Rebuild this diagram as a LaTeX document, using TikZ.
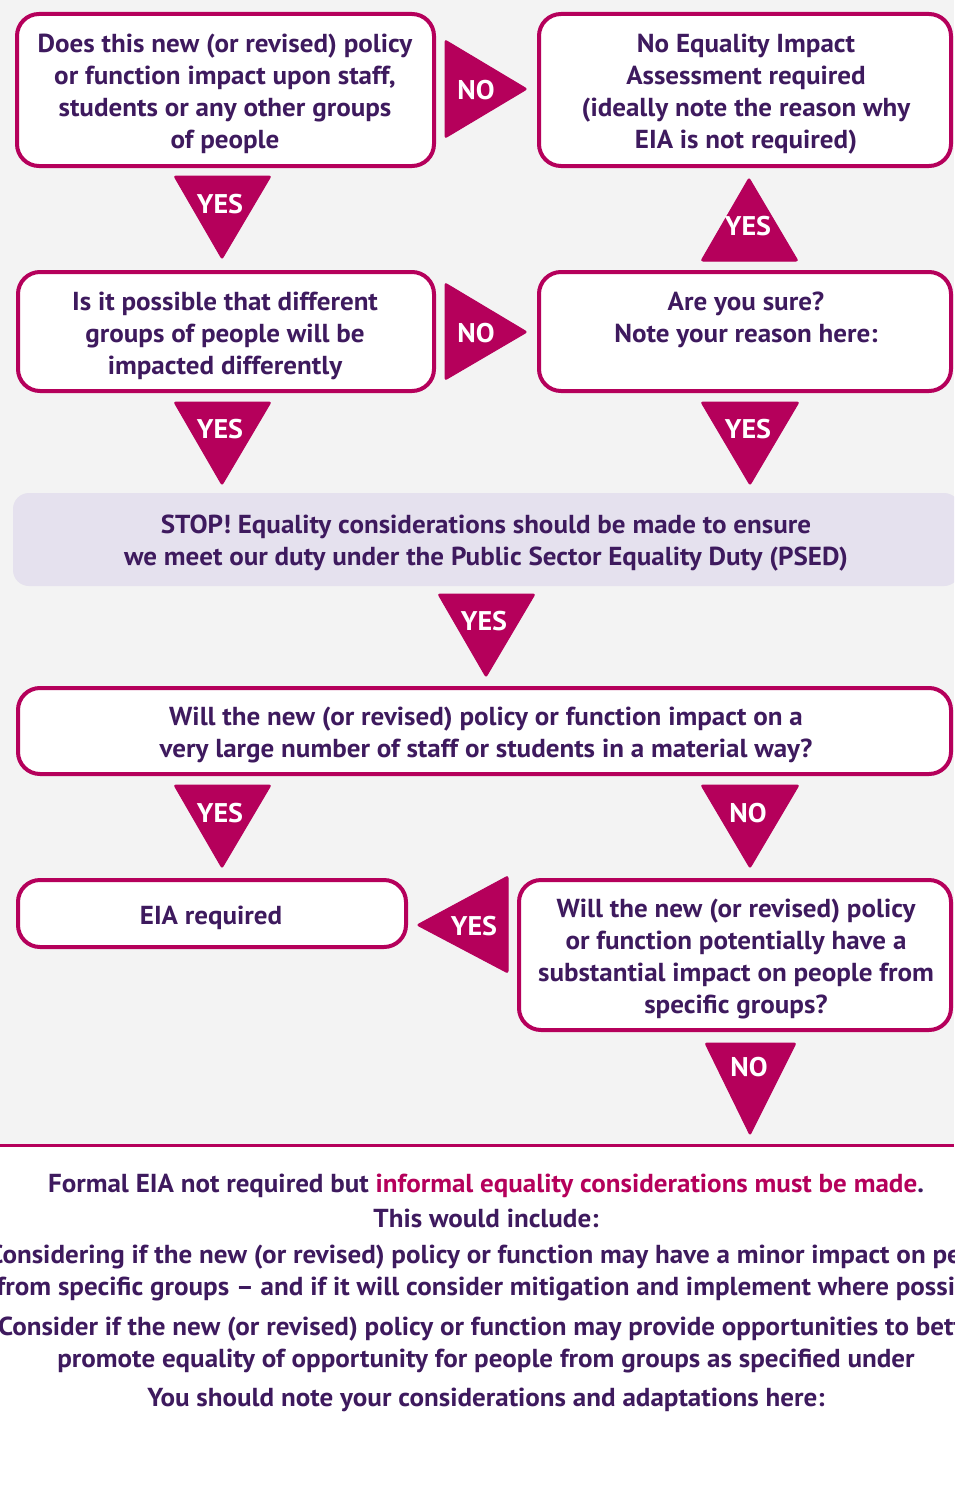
\documentclass[tikz,border=0pt]{standalone}
\usepackage{fontspec}
\setmainfont[FakeStretch=1.04]{PT Sans}
\definecolor{mag}{RGB}{181,0,91}
\definecolor{ink}{RGB}{62,26,94}
\definecolor{bggray}{RGB}{243,243,243}
\definecolor{lav}{RGB}{229,225,238}
\tikzset{
  txt/.style={text=ink, font=\bfseries\fontsize{26}{32}\selectfont, align=center, inner sep=0pt},
  box/.style={draw=mag, line width=4pt, fill=white, rounded corners=22pt, inner sep=0pt, anchor=center},
  tri/.style={fill=mag, draw=mag, line width=1pt, rounded corners=2pt},
  lab/.style={text=white, font=\bfseries\fontsize{27}{30}\selectfont, inner sep=0pt},
}
\begin{document}
\begin{tikzpicture}[x=1pt,y=-1pt]
\useasboundingbox (0,0) rectangle (954,1501);
\clip (0,0) rectangle (954,1501);
\fill[white] (0,0) rectangle (954,1501);
\fill[bggray] (0,0) rectangle (954,1145);
\draw[mag, line width=3pt] (0,1145) -- (954,1145);

% boxes
\node[box, minimum width=417pt, minimum height=152pt] (b1) at (225.5,90) {};
\node[txt] (t1) at (225,94) {Does this new (or revised) policy\\or function impact upon staff,\\students or any other groups\\of people};
\node[box, minimum width=412pt, minimum height=152pt] (b2) at (745,90) {};
\node[txt] (t2) at (746,94) {No Equality Impact\\Assessment required\\(ideally note the reason why\\EIA is not required)};
\node[box, minimum width=416pt, minimum height=119pt] (b3) at (226,331.5) {};
\node[txt] (t3) at (225,336) {Is it possible that different\\groups of people will be\\impacted differently};
\node[box, minimum width=412pt, minimum height=119pt] (b4) at (745,331.5) {};
\node[txt, anchor=north] (t4) at (746,292) {Are you sure?\\Note your reason here:};
\node[fill=lav, rounded corners=16pt, minimum width=947pt, minimum height=93pt, inner sep=0pt] (stop) at (486.5,539.5) {};
\node[txt] (t5) at (486,543) {STOP! Equality considerations should be made to ensure\\we meet our duty under the Public Sector Equality Duty (PSED)};
\node[box, minimum width=933pt, minimum height=86pt] (b5) at (484.5,731) {};
\node[txt] (t6) at (486,735) {Will the new (or revised) policy or function impact on a\\very large number of staff or students in a material way?};
\node[box, minimum width=388pt, minimum height=67pt] (b6) at (212,913.5) {};
\node[txt] (t7) at (211,918) {EIA required};
\node[box, minimum width=432pt, minimum height=150pt] (b7) at (735,955) {};
\node[txt] (t8) at (736,959) {Will the new (or revised) policy\\or function potentially have a\\substantial impact on people from\\specific groups?};

% arrow triangles
\draw[tri] (445,40) -- (445,138) -- (527,89) -- cycle;
\node[lab] (a1) at (476,90) {NO};
\draw[tri] (174,176) -- (271,176) -- (222,259) -- cycle;
\node[lab] (a2) at (220,204) {YES};
\draw[tri] (701,261) -- (798,261) -- (749,178) -- cycle;
\node[lab] (a3) at (748,226) {YES};
\draw[tri] (445,283) -- (445,380) -- (527,332) -- cycle;
\node[lab] (a4) at (476,333) {NO};
\draw[tri] (174,402) -- (271,402) -- (222,485) -- cycle;
\node[lab] (a5) at (220,429) {YES};
\draw[tri] (701,402) -- (799,402) -- (750,485) -- cycle;
\node[lab] (a6) at (748,429) {YES};
\draw[tri] (438,594) -- (535,594) -- (486,677) -- cycle;
\node[lab] (a7) at (484,621) {YES};
\draw[tri] (174,785) -- (271,785) -- (222,868) -- cycle;
\node[lab] (a8) at (220,813) {YES};
\draw[tri] (701,785) -- (799,785) -- (750,868) -- cycle;
\node[lab] (a9) at (748,813) {NO};
\draw[tri] (508,876) -- (508,973) -- (417,925) -- cycle;
\node[lab] (a10) at (474,926) {YES};
\draw[tri] (705,1043) -- (796,1043) -- (750,1135) -- cycle;
\node[lab] (a11) at (749,1067) {NO};

% bottom text
\node[txt] (f1) at (486,1186) {Formal EIA not required but \textcolor{mag}{informal equality considerations must be made}.};
\node[txt] (f2) at (486,1218) {This would include:};
\node[txt] (f3) at (500,1257) {Considering if the new (or revised) policy or function may have a minor impact on people};
\node[txt] (f4) at (494,1289) {from specific groups -- and if it will consider mitigation and implement where possible};
\node[txt] (f5) at (492,1329) {Consider if the new (or revised) policy or function may provide opportunities to better};
\node[txt] (f6) at (486,1361) {promote equality of opportunity for people from groups as specified under};
\node[txt] (f7) at (486,1400) {You should note your considerations and adaptations here:};
\end{tikzpicture}
\end{document}
